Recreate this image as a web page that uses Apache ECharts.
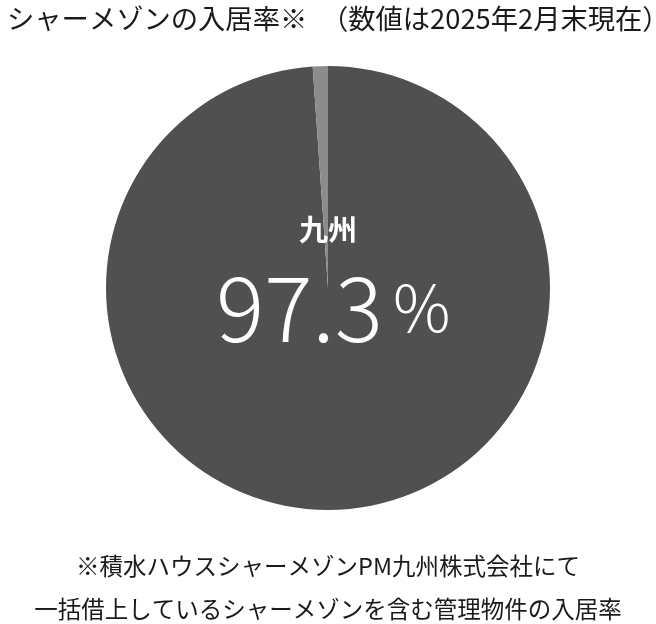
<!DOCTYPE html>
<html><head><meta charset="utf-8">
<script src="https://cdn.jsdelivr.net/npm/echarts@6/dist/echarts.min.js"></script>
<style>html,body{margin:0;padding:0;background:#fff}#c{width:656px;height:624px}</style>
</head><body><div id="c"></div>
<script>
const categories = ['入居', '空室'];
const values = [98.9, 1.1];
const region = '九州';
const rateText = '97.3';
const titleText = 'シャーメゾンの入居率※　（数値は2025年2月末現在）';
const noteLines = ['※積水ハウスシャーメゾンPM九州株式会社にて', '一括借上しているシャーメゾンを含む管理物件の入居率'];
const colors = ['#505050', '#8c8c8c'];

const font = '"Noto Sans CJK JP", "Noto Sans", sans-serif';
const chart = echarts.init(document.getElementById('c'));
chart.setOption({
  animation: false,
  title: [
    { text: titleText, left: 2, top: 0, textStyle: { fontFamily: font, fontSize: 27.3, fontWeight: 'normal', color: '#1a1a1a' } },
    { text: noteLines[0], left: 'center', top: 549, textStyle: { fontFamily: font, fontSize: 23.5, fontWeight: 'normal', color: '#1a1a1a' } },
    { text: noteLines[1], left: 'center', top: 592, textStyle: { fontFamily: font, fontSize: 23.5, fontWeight: 'normal', color: '#1a1a1a' } }
  ],
  graphic: [
    { type: 'text', left: 'center', top: 215, z: 100, style: { text: region, font: 'bold 29px ' + font, fill: '#ffffff' } },
    { type: 'text', z: 100, left: 216, top: 263, style: { rich: { n: { fontFamily: font, fontSize: 90, fontWeight: 300, color: '#fff' }, p: { fontFamily: font, fontSize: 64, fontWeight: 300, color: '#fff', padding: [0, 0, 0, 10] } }, text: '{n|' + rateText + '}{p|%}', fill: '#fff' } }
  ],
  series: [{
    type: 'pie',
    center: ['50%', 288],
    radius: [0, 222],
    startAngle: 90,
    clockwise: true,
    label: { show: false },
    labelLine: { show: false },
    emphasis: { disabled: true },
    itemStyle: { borderWidth: 0 },
    data: categories.map((c, i) => ({ name: c, value: values[i], itemStyle: { color: colors[i] } }))
  }]
});
</script></body></html>
